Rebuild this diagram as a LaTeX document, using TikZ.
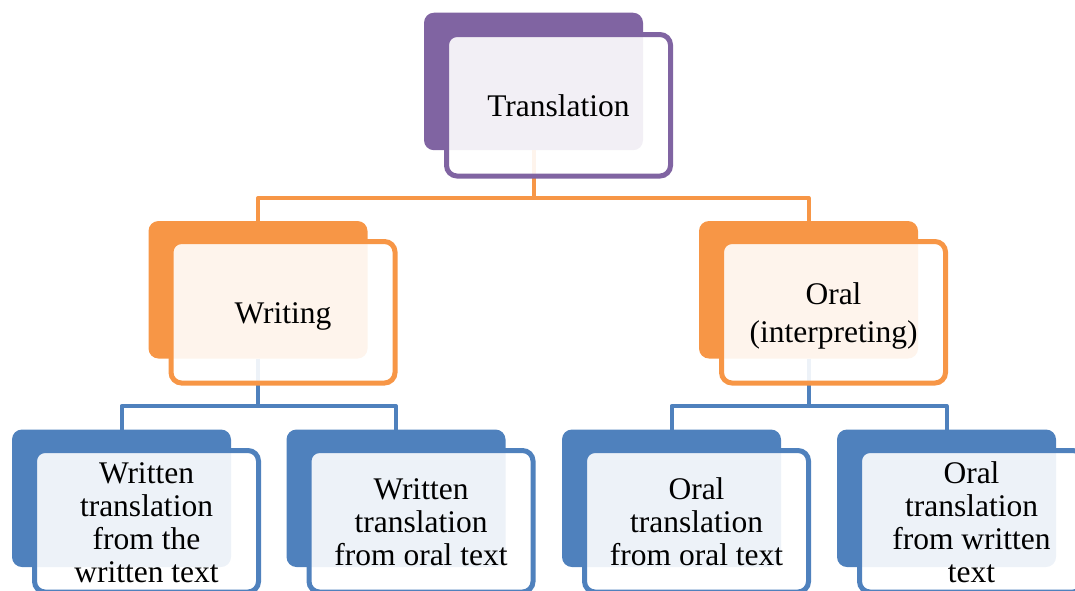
\documentclass[tikz,border=0pt]{standalone}
\usepackage{fontspec}
\setmainfont{Liberation Serif}
\usetikzlibrary{calc}
\definecolor{cpurple}{HTML}{8064A2}
\definecolor{corange}{HTML}{F79646}
\definecolor{cblue}{HTML}{4F81BD}
\newcommand\lnstrut{\rule[-7pt]{0pt}{37pt}}
\tikzset{
  backbox/.style={rectangle, rounded corners=10pt, fill=#1, draw=none,
    minimum width=219pt, minimum height=137.5pt, inner sep=0pt, outer sep=0pt, anchor=north west},
  frontbox/.style={rectangle, rounded corners=10.5pt, draw=#1, line width=5pt,
    fill=white, fill opacity=0.9, draw opacity=1, text opacity=1,
    minimum width=224pt, minimum height=141.5pt, inner sep=0pt, outer sep=0pt,
    anchor=north west, align=center, font=\fontsize{31.5}{33}\selectfont},
  conn/.style={draw=#1, line width=4pt, line join=round},
}
\begin{document}
\begin{tikzpicture}[x=1pt,y=-1pt]
\useasboundingbox (0,0) rectangle (1075,590);
\clip (0,0) rectangle (1075,590);
% back boxes
\node[backbox=cpurple] (t) at (424,12.7) {};
\node[backbox=corange] (w) at (148.5,221) {};
\node[backbox=corange] (o) at (699,221) {};
\node[backbox=cblue] (l1) at (12,429.5) {};
\node[backbox=cblue] (l2) at (286.5,429.5) {};
\node[backbox=cblue] (l3) at (562,429.5) {};
\node[backbox=cblue] (l4) at (837,429.5) {};
% connectors
\coordinate (bus1) at (0,198);
\coordinate (bus2) at (0,406);
\draw[conn=corange] (t.south) -- (t.south|-bus1) -| (w.north);
\draw[conn=corange] (t.south|-bus1) -| (o.north);
\draw[conn=cblue] (w.south) -- (w.south|-bus2) -| (l1.north);
\draw[conn=cblue] (w.south|-bus2) -| (l2.north);
\draw[conn=cblue] (o.south) -- (o.south|-bus2) -| (l3.north);
\draw[conn=cblue] (o.south|-bus2) -| (l4.north);
% front boxes
\node[frontbox=cpurple] (tf) at ($(t.north west)+(22.5,21.8)$) {\lnstrut Translation};
\node[frontbox=corange] (wf) at ($(w.north west)+(22.5,20.5)$) {\lnstrut Writing};
\node[frontbox=corange] (of) at ($(o.north west)+(22.5,20.5)$) {\lnstrut Oral\\(interpreting)\lnstrut};
\node[frontbox=cblue] (l1f) at ($(l1.north west)+(22.5,21)$) {\lnstrut Written\\translation\\from the\\written text\lnstrut};
\node[frontbox=cblue] (l2f) at ($(l2.north west)+(22.5,21)$) {\lnstrut Written\\translation\\from oral text\lnstrut};
\node[frontbox=cblue] (l3f) at ($(l3.north west)+(22.5,21)$) {\lnstrut Oral\\translation\\from oral text\lnstrut};
\node[frontbox=cblue] (l4f) at ($(l4.north west)+(22.5,21)$) {\lnstrut Oral\\translation\\from written\\text\lnstrut};
\end{tikzpicture}
\end{document}
